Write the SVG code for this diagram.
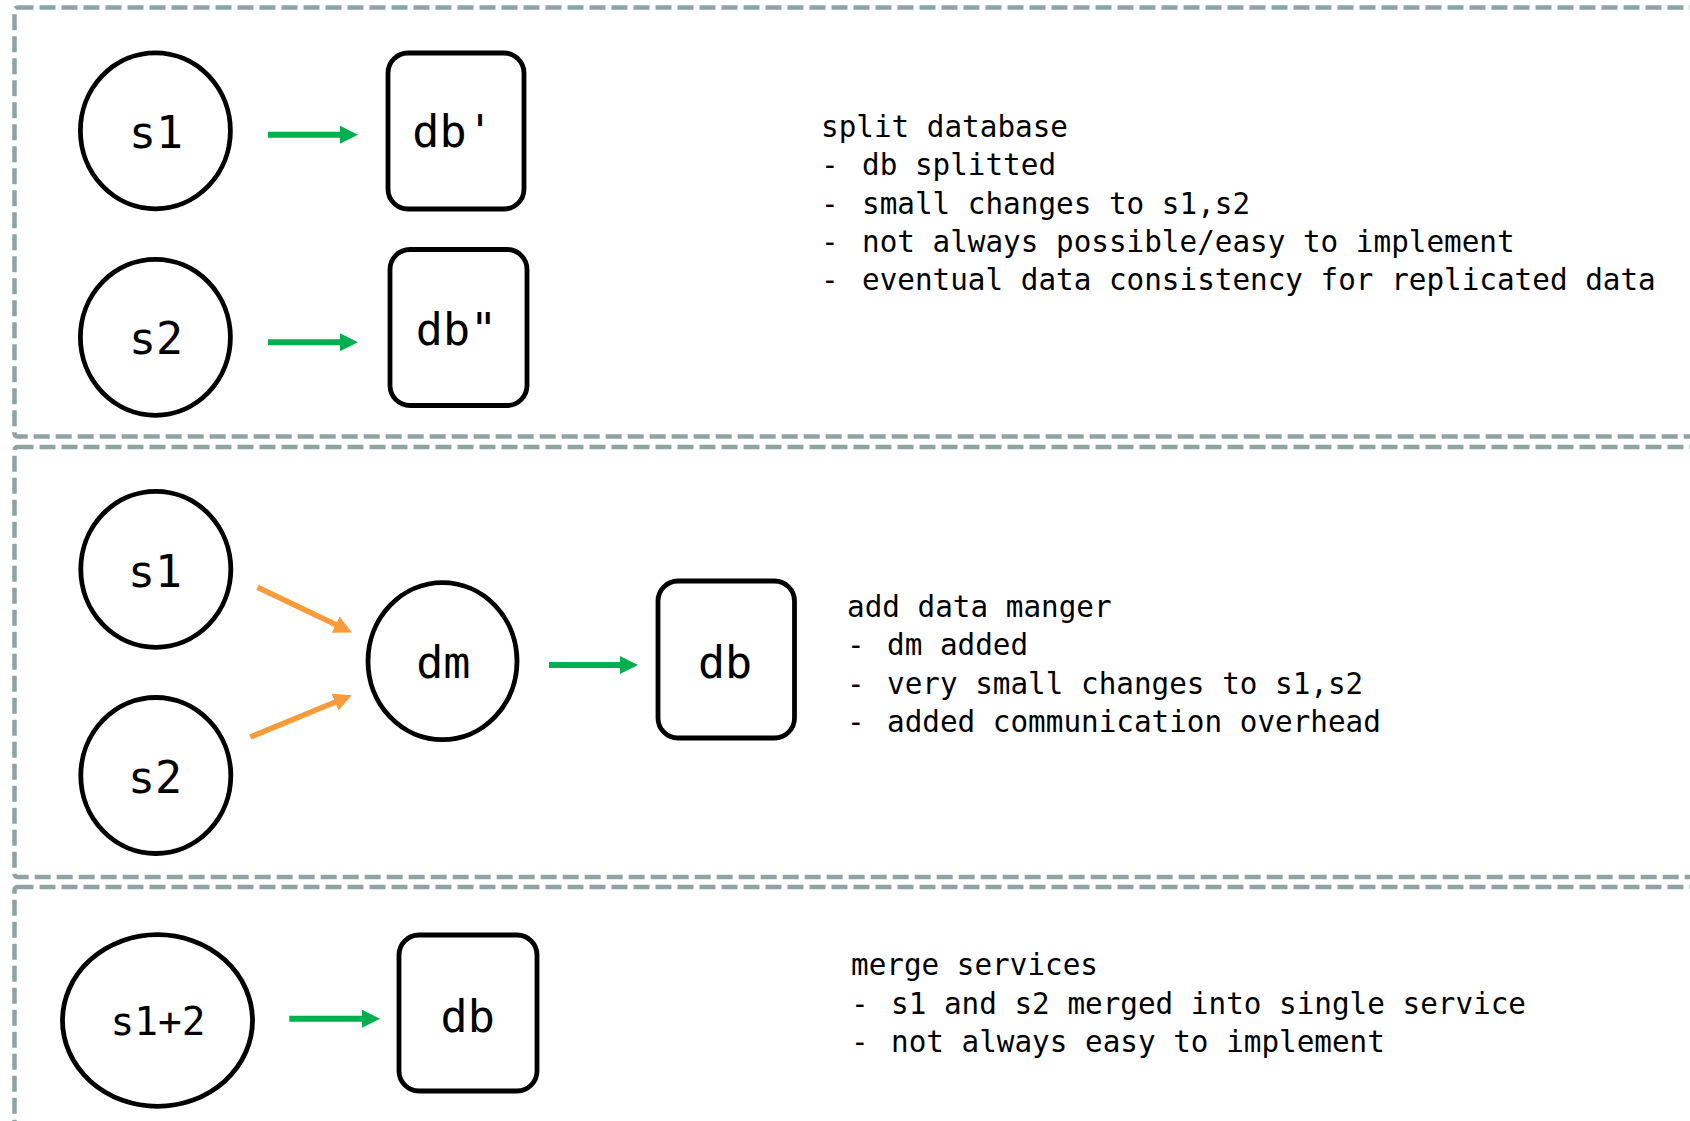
<svg xmlns="http://www.w3.org/2000/svg" width="1690" height="1121" viewBox="0 0 1690 1121">
  <style>
    .frame { fill: none; stroke: #8fa3a3; stroke-width: 4.5; stroke-dasharray: 16 6; }
    .node { fill: #ffffff; stroke: #000000; stroke-width: 4.8; }
    .label { font-family: "DejaVu Sans Mono", "Liberation Mono", monospace; font-size: 45px; fill: #000000; text-anchor: middle; }
    .label.small { font-size: 39.5px; }
    .note { font-family: "DejaVu Sans Mono", "Liberation Mono", monospace; font-size: 29.3px; fill: #000000; }
    .green { stroke: #00b050; stroke-width: 6; fill: none; }
    .orange { stroke: #f89b3a; stroke-width: 5.5; fill: none; }
  </style>
  <defs>
    <marker id="headGreen" markerUnits="userSpaceOnUse" markerWidth="20" markerHeight="20" refX="1" refY="9" orient="auto">
      <path d="M0,0 L18,9 L0,18 Z" fill="#00b050"/>
    </marker>
    <marker id="headOrange" markerUnits="userSpaceOnUse" markerWidth="20" markerHeight="20" refX="1" refY="9" orient="auto">
      <path d="M0,0 L18,9 L0,18 Z" fill="#f89b3a"/>
    </marker>
  </defs>
  <rect width="1690" height="1121" fill="#ffffff"/>

  <g id="frames">
    <rect class="frame" x="14.5" y="7.5" width="1720" height="429" rx="3"/>
    <rect class="frame" x="14.5" y="447" width="1720" height="430" rx="3"/>
    <rect class="frame" x="14.5" y="887" width="1720" height="300" rx="3"/>
  </g>

  <g id="connectors">
    <line class="green" x1="268" y1="134.7" x2="341" y2="134.7" marker-end="url(#headGreen)"/>
    <line class="green" x1="268" y1="342.3" x2="341" y2="342.3" marker-end="url(#headGreen)"/>
    <line class="orange" x1="257.5" y1="587.3" x2="336.6" y2="625.1" marker-end="url(#headOrange)"/>
    <line class="orange" x1="250.4" y1="737" x2="336" y2="701.7" marker-end="url(#headOrange)"/>
    <line class="green" x1="549" y1="665" x2="621" y2="665" marker-end="url(#headGreen)"/>
    <line class="green" x1="289.3" y1="1018.7" x2="363" y2="1018.7" marker-end="url(#headGreen)"/>
  </g>

  <g id="split-s1">
    <ellipse class="node" cx="155.4" cy="130.8" rx="75" ry="78"/>
    <text class="label" x="156" y="148">s1</text>
  </g>
  <g id="split-db1">
    <rect class="node" x="388" y="53" width="136" height="156" rx="20"/>
    <text class="label" x="453" y="147">db'</text>
  </g>
  <g id="split-s2">
    <ellipse class="node" cx="155.4" cy="337.3" rx="75" ry="78"/>
    <text class="label" x="156" y="353.5">s2</text>
  </g>
  <g id="split-db2">
    <rect class="node" x="390" y="249.5" width="137" height="156" rx="20"/>
    <text class="label" x="456.5" y="345">db"</text>
  </g>

  <g id="note-split">
    <text class="note" x="821" y="137">split database</text>
    <text class="note" y="175.3"><tspan x="821">-</tspan><tspan x="862">db splitted</tspan></text>
    <text class="note" y="213.6"><tspan x="821">-</tspan><tspan x="862">small changes to s1,s2</tspan></text>
    <text class="note" y="251.9"><tspan x="821">-</tspan><tspan x="862">not always possible/easy to implement</tspan></text>
    <text class="note" y="290.2"><tspan x="821">-</tspan><tspan x="862">eventual data consistency for replicated data</tspan></text>
  </g>

  <g id="dm-s1">
    <ellipse class="node" cx="155.8" cy="569.3" rx="75" ry="78"/>
    <text class="label" x="155" y="586.5">s1</text>
  </g>
  <g id="dm-s2">
    <ellipse class="node" cx="155.8" cy="775.5" rx="75" ry="78"/>
    <text class="label" x="155" y="792.5">s2</text>
  </g>
  <g id="dm">
    <ellipse class="node" cx="442.5" cy="661.2" rx="74.5" ry="78.5"/>
    <text class="label" x="443.3" y="677.5">dm</text>
  </g>
  <g id="dm-db">
    <rect class="node" x="658" y="581" width="136.5" height="157" rx="20"/>
    <text class="label" x="725" y="677.5">db</text>
  </g>

  <g id="note-dm">
    <text class="note" x="847" y="617">add data manger</text>
    <text class="note" y="655.4"><tspan x="847">-</tspan><tspan x="887">dm added</tspan></text>
    <text class="note" y="693.8"><tspan x="847">-</tspan><tspan x="887">very small changes to s1,s2</tspan></text>
    <text class="note" y="732.2"><tspan x="847">-</tspan><tspan x="887">added communication overhead</tspan></text>
  </g>

  <g id="merged-s">
    <ellipse class="node" cx="157.5" cy="1020.5" rx="95" ry="85.8"/>
    <text class="label small" x="158" y="1035">s1+2</text>
  </g>
  <g id="merged-db">
    <rect class="node" x="399" y="935" width="138" height="156" rx="20"/>
    <text class="label" x="467.7" y="1032">db</text>
  </g>

  <g id="note-merge">
    <text class="note" x="851" y="975">merge services</text>
    <text class="note" y="1013.5"><tspan x="851">-</tspan><tspan x="891">s1 and s2 merged into single service</tspan></text>
    <text class="note" y="1052"><tspan x="851">-</tspan><tspan x="891">not always easy to implement</tspan></text>
  </g>
</svg>
